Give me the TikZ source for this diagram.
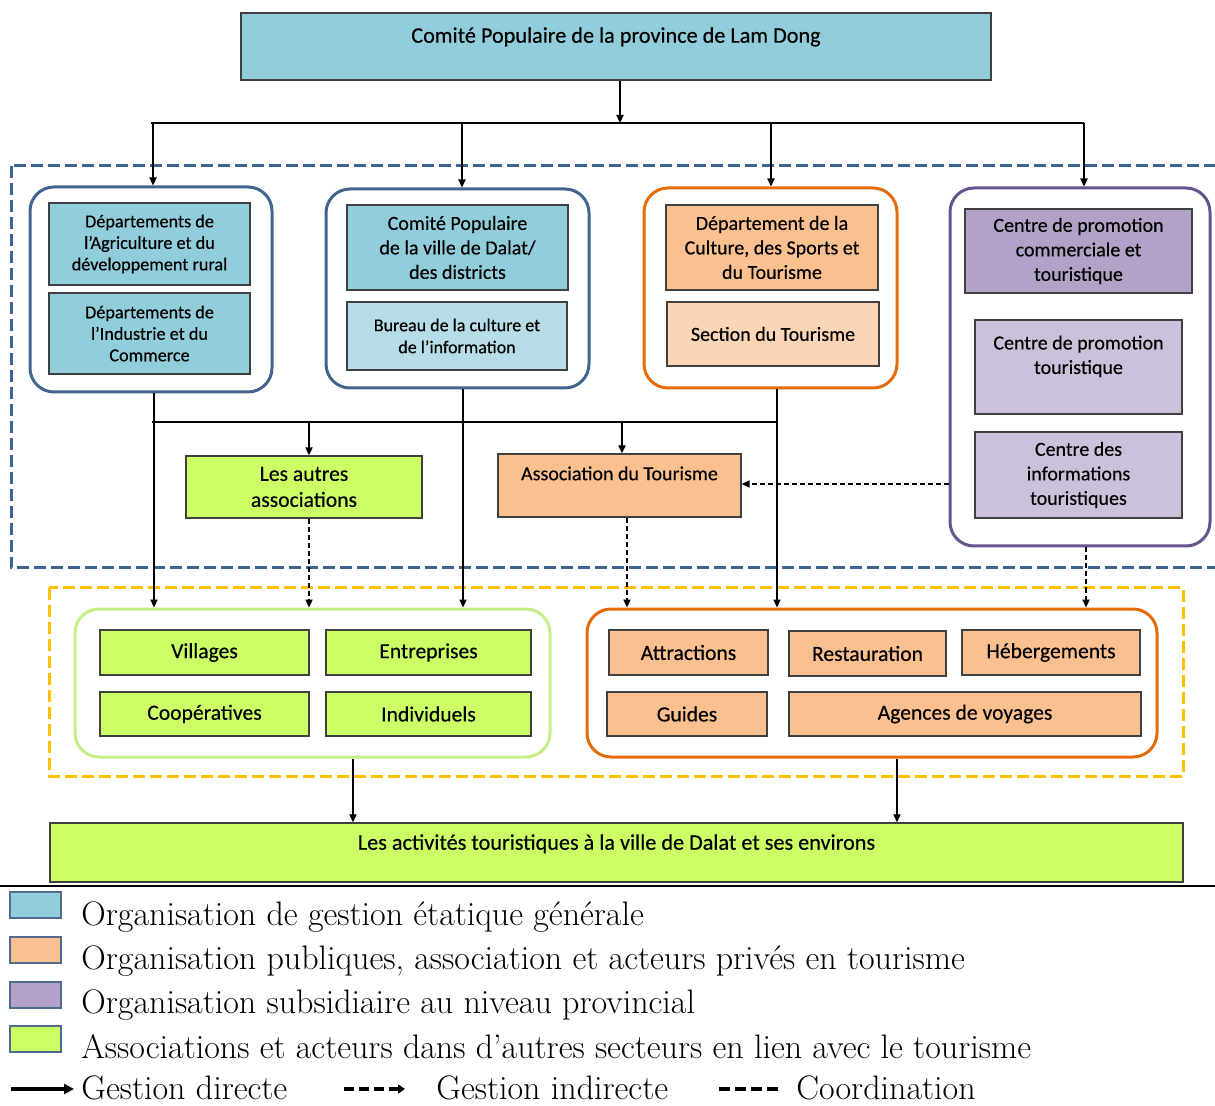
\documentclass[tikz,border=0pt]{standalone}
\usepackage{fontspec}
\newfontfamily\calfont[FakeBold=0.35]{Carlito}
\usetikzlibrary{arrows.meta}
\definecolor{cblue}{HTML}{92CDDC}
\definecolor{cblue2}{HTML}{B7DEE8}
\definecolor{corange}{HTML}{FAC090}
\definecolor{corange2}{HTML}{FBD5B5}
\definecolor{cpurple}{HTML}{B3A2C7}
\definecolor{cpurple2}{HTML}{CCC1DA}
\definecolor{cgreen}{HTML}{CCFF66}
\definecolor{bblue}{HTML}{41658F}
\definecolor{borange}{HTML}{E46C0A}
\definecolor{bpurple}{HTML}{65558C}
\definecolor{bgreen}{HTML}{C3EF86}
\definecolor{dblue}{HTML}{3D6594}
\definecolor{dyellow}{HTML}{FFC000}
\definecolor{boxline}{HTML}{404040}
\definecolor{legline}{HTML}{4F6B8F}
\tikzset{
  bx/.style={draw=boxline, line width=0.7pt, inner sep=0pt, align=center, text=black,
    font=\calfont\fontsize{10}{12.25}\selectfont},
  smalltxt/.style={font=\calfont\fontsize{9.1}{10.75}\selectfont},
  bigtxt/.style={font=\calfont\fontsize{10.8}{13}\selectfont},
  hugetxt/.style={font=\calfont\fontsize{11.1}{13.5}\selectfont},
  sz/.style 2 args={minimum width=#1*0.5pt, minimum height=#2*0.5pt},
  grp/.style={draw=#1, line width=1.5pt, rounded corners=12pt, fill=white, inner sep=0pt},
  ln/.style={line width=0.75pt},
  arr/.style={line width=0.75pt, -{Triangle[length=4pt,width=3.6pt]}},
  darr/.style={arr, dash pattern=on 2.5pt off 1.5pt},
  regiondash/.style={line width=1.5pt, dash pattern=on 6pt off 2.5pt},
  leg/.style={inner sep=0pt, anchor=base west, font=\fontsize{17}{20}\selectfont},
  legsq/.style={draw=legline, line width=0.6pt},
}
\begin{document}
\begin{tikzpicture}[x=0.5pt,y=-0.5pt]
\useasboundingbox (0,0) rectangle (1215,1106);
\clip (0,0) rectangle (1215,1106);

% region frames
\draw[regiondash, draw=dblue] (11,166) rectangle (1240,568);
\draw[regiondash, draw=dyellow] (49,588) rectangle (1183,776);

% top
\node[bx, hugetxt, fill=cblue, sz={750}{67}] (top) at (616,46.5) {Comité Populaire de la province de Lam Dong\\[-2pt]~};

% groups
\node[grp=bblue, sz={242}{205}] (g1) at (151,289.5) {};
\node[grp=bblue, sz={263}{199}] (g2) at (457.5,288.5) {};
\node[grp=borange, sz={253}{200}] (g3) at (770.5,288) {};
\node[grp=bpurple, sz={260}{358}] (g4) at (1080,367) {};
\node[grp=bgreen, sz={475}{148}] (gG) at (312.5,683) {};
\node[grp=borange, sz={570}{148}] (gO) at (872,683) {};

% group 1
\node[bx, smalltxt, fill=cblue, sz={201}{82}] (a1) at (149.5,244) {Départements de\\l’Agriculture et du\\développement rural};
\node[bx, smalltxt, fill=cblue, sz={201}{81}] (a2) at (149.5,333.5) {Départements de\\l’Industrie et du\\Commerce};
% group 2
\node[bx, fill=cblue, sz={221}{85}] (b1) at (457.5,247.5) {Comité Populaire\\de la ville de Dalat/\\des districts};
\node[bx, fill=cblue2, font=\calfont\fontsize{9}{11}\selectfont, sz={220}{68}] (b2) at (457,336) {Bureau de la culture et\\de l’information};
% group 3
\node[bx, fill=corange, sz={212}{85}] (c1) at (772,247.5) {Département de la\\Culture, des Sports et\\du Tourisme};
\node[bx, fill=corange2, sz={212}{64}] (c2) at (773,334) {Section du Tourisme};
% group 4
\node[bx, fill=cpurple, sz={227}{84}] (d1) at (1078.5,251) {Centre de promotion\\commerciale et\\touristique};
\node[bx, fill=cpurple2, sz={207}{94}] (d2) at (1078.5,367) {Centre de promotion\\touristique\\~};
\node[bx, fill=cpurple2, sz={207}{86}] (d3) at (1078.5,475) {Centre des\\informations\\touristiques};

% associations
\node[bx, bigtxt, fill=cgreen, sz={236}{62}] (autres) at (304,487) {Les autres\\associations};
\node[bx, fill=corange, sz={243}{63}] (assoc) at (619.5,485.5) {Association du Tourisme\\[0pt]~};

% green group
\node[bx, bigtxt, fill=cgreen, sz={209}{45}] (vil) at (204.5,652.5) {Villages};
\node[bx, bigtxt, fill=cgreen, sz={205}{45}] (ent) at (428.5,652.5) {Entreprises};
\node[bx, bigtxt, fill=cgreen, sz={209}{44}] (coop) at (204.5,714) {Coopératives};
\node[bx, bigtxt, fill=cgreen, sz={205}{44}] (ind) at (428.5,714) {Individuels};

% orange group
\node[bx, bigtxt, fill=corange, sz={159}{45}] (att) at (688.5,652.5) {Attractions};
\node[bx, bigtxt, fill=corange, sz={157}{45}] (res) at (867.5,653.5) {Restauration};
\node[bx, bigtxt, fill=corange, sz={178}{45}] (heb) at (1051,652.5) {Hébergements};
\node[bx, bigtxt, fill=corange, sz={160}{44}] (gui) at (687,714) {Guides};
\node[bx, bigtxt, fill=corange, sz={352}{44}] (age) at (965,714) {Agences de voyages};

% bottom
\node[bx, hugetxt, fill=cgreen, sz={1133}{59}] (bot) at (616.5,852.5) {Les activités touristiques à la ville de Dalat et ses environs\\[-3pt]~};

% connectors top
\coordinate (j0) at (620,123);
\coordinate (hl) at (151,123);
\coordinate (hr) at (1084,123);
\coordinate (x1) at (153,0);
\coordinate (x2) at (462,0);
\coordinate (x3) at (771,0);
\coordinate (x4) at (1084,0);
\draw[arr] (top.south -| j0) -- (j0);
\draw[ln] (hl) -- (hr);
\draw[arr] (x1 |- hl) -- (x1 |- g1.north);
\draw[arr] (x2 |- hl) -- (x2 |- g2.north);
\draw[arr] (x3 |- hl) -- (x3 |- g3.north);
\draw[arr] (x4 |- hl) -- (x4 |- g4.north);

% connectors middle
\coordinate (m1) at (154,0);
\coordinate (m2) at (463,0);
\coordinate (m3) at (777,0);
\coordinate (hl2) at (152,422);
\coordinate (hr2) at (777,422);
\coordinate (p1) at (309,0);
\coordinate (p2) at (622,0);
\coordinate (q2) at (627,0);
\coordinate (q3) at (1086,0);
\coordinate (r1) at (0,484);
\draw[ln] (hl2) -- (hr2);
\draw[arr] (m1 |- g1.south) -- (m1 |- gG.north);
\draw[arr] (m2 |- g2.south) -- (m2 |- gG.north);
\draw[arr] (m3 |- g3.south) -- (m3 |- gO.north);
\draw[arr] (p1 |- hl2) -- (p1 |- autres.north);
\draw[arr] (p2 |- hl2) -- (p2 |- assoc.north);
\draw[darr] (p1 |- autres.south) -- (p1 |- gG.north);
\draw[darr] (q2 |- assoc.south) -- (q2 |- gO.north);
\draw[darr] (q3 |- g4.south) -- (q3 |- gO.north);
\draw[darr] (g4.west |- r1) -- (assoc.east |- r1);

% connectors bottom
\coordinate (s1) at (353,0);
\coordinate (s2) at (897,0);
\draw[arr] (s1 |- gG.south) -- (s1 |- bot.north);
\draw[arr] (s2 |- gO.south) -- (s2 |- bot.north);

% separator
\draw[line width=1pt] (0,886) -- (1215,886);

% legend
\draw[legsq, fill=cblue] (10,892) rectangle (61,918);
\draw[legsq, fill=corange] (10,937) rectangle (61,963);
\draw[legsq, fill=cpurple] (10,982) rectangle (61,1008);
\draw[legsq, fill=cgreen] (10,1026) rectangle (61,1052);
\node[leg] (l1) at (81,925) {Organisation de gestion étatique générale};
\node[leg] (l2) at (81,969) {Organisation publiques, association et acteurs privés en tourisme};
\node[leg] (l3) at (81,1013) {Organisation subsidiaire au niveau provincial};
\node[leg] (l4) at (81,1058) {Associations et acteurs dans d’autres secteurs en lien avec le tourisme};
\coordinate (e1) at (11,1089);
\coordinate (e2) at (74,1089);
\coordinate (e3) at (344,1089);
\coordinate (e4) at (405,1089);
\coordinate (e5) at (719,1089);
\coordinate (e6) at (778,1089);
\draw[line width=1.6pt, -{Triangle[length=5pt,width=5pt]}] (e1) -- (e2);
\draw[line width=1.6pt, dash pattern=on 5pt off 2.5pt, -{Triangle[length=3.5pt,width=4.5pt]}] (e3) -- (e4);
\draw[line width=1.6pt, dash pattern=on 5.5pt off 2.5pt] (e5) -- (e6);
\node[leg] (l5) at (81,1099) {Gestion directe};
\node[leg] (l6) at (436,1099) {Gestion indirecte};
\node[leg] (l7) at (796,1099) {Coordination};
\end{tikzpicture}
\end{document}
